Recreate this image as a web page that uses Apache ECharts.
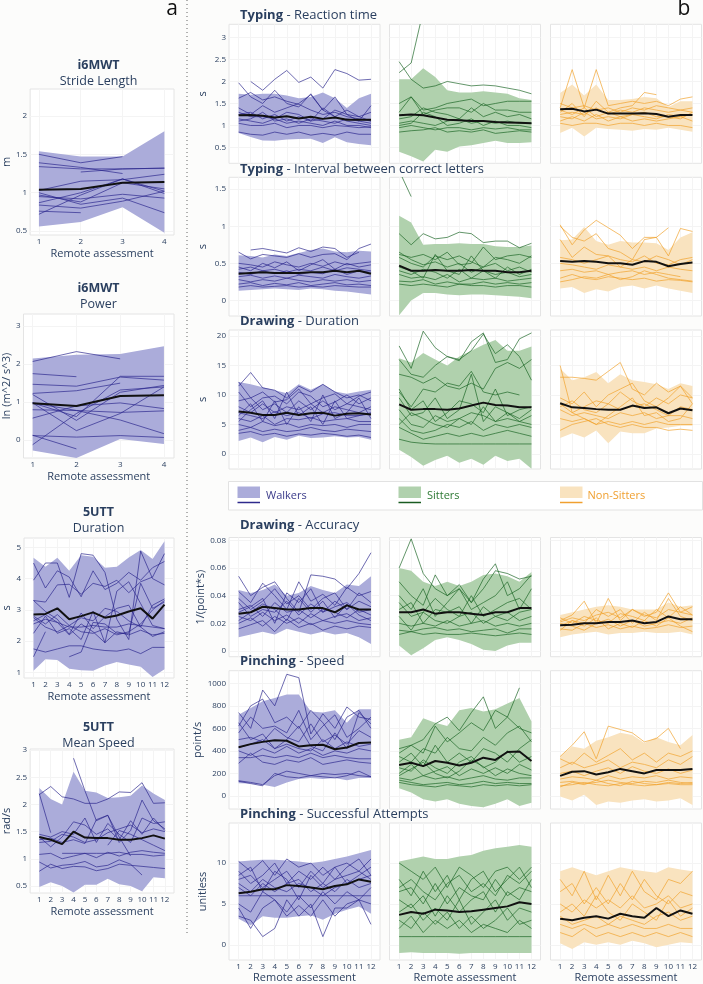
<!DOCTYPE html>
<html><head><meta charset="utf-8">
<script src="https://cdn.jsdelivr.net/npm/echarts@6/dist/echarts.min.js"></script>
<style>html,body{margin:0;padding:0;background:#fcfcfb;}#c{width:703px;height:984px;}</style>
</head><body><div id="c"></div>
<script>
// ---------------- DATA ----------------
const xs4 = [1, 2, 3, 4];
const xs12 = [1, 2, 3, 4, 5, 6, 7, 8, 9, 10, 11, 12];
const xTicks4 = [1, 2, 3, 4];
const xTicks12 = [1, 2, 3, 4, 5, 6, 7, 8, 9, 10, 11, 12];

// i6MWT Stride Length
const strideUpper = [1.54, 1.47, 1.47, 1.80];
const strideLower = [0.56, 0.62, 0.81, 0.48];
const strideMean = [1.04, 1.05, 1.13, 1.14];
const strideLines = [
  [1.50, 1.39, 1.47, null], [1.39, 1.33, 1.25, null], [1.34, 1.31, 1.31, 1.32], [null, 1.27, 1.31, 1.32],
  [1.03, 1.15, 1.17, 1.24], [0.97, 0.88, 1.13, 1.05], [0.87, 1.00, 1.18, 1.02], [0.72, 0.97, 1.18, 0.99],
  [1.00, 0.85, 0.93, 0.74], [0.76, 0.74, null, null], [0.84, 0.80, 0.89, 1.02], [0.95, 0.92, 0.98, 0.93]
];
// i6MWT Power
const powerUpper = [2.15, 2.25, 2.27, 2.47];
const powerLower = [-0.27, -0.47, 0.03, -0.10];
const powerMean = [0.97, 0.90, 1.16, 1.18];
const powerLines = [
  [2.07, 2.33, 2.14, null], [1.75, 1.67, null, null], [1.47, 1.42, 1.66, 1.58], [1.23, 1.30, 1.50, null],
  [1.20, 0.52, 1.26, 1.44], [0.98, 0.62, 1.68, 1.68], [0.80, 0.78, 0.73, 0.77], [0.58, 0.90, 0.98, 0.83],
  [0.98, 0.25, 0.70, 1.40], [0.13, -0.23, null, null], [-0.12, 0.70, 1.32, 1.40], [0.12, 0.08, 0.12, 0.07],
  [0.98, 0.78, 0.53, 0.17]
];
// 5UTT Duration
const utDurUpper = [4.67, 4.38, 4.67, 4.25, 4.75, 4.70, 4.35, 4.38, 4.68, 4.92, 4.63, 5.20];
const utDurLower = [1.05, 1.42, 1.40, 1.12, 1.07, 1.05, 1.22, 1.33, 1.25, 1.18, 0.85, 1.10];
const utDurMean = [2.85, 2.87, 3.05, 2.70, 2.80, 2.92, 2.75, 2.82, 2.95, 3.05, 2.72, 3.17];
const utDurLines = [
  [4.50, 3.70, 4.25, 4.05, 3.42, 4.25, 3.65, 3.85, 4.20, 3.95, 4.35, 4.55],
  [3.95, 4.50, 4.50, 3.40, 4.80, 4.75, 4.20, 2.70, 2.05, 4.88, 4.00, 3.80],
  [3.30, 3.25, 3.80, 3.82, 3.50, 3.85, 3.75, 3.95, 3.55, 3.90, 4.05, 4.80],
  [3.30, 2.95, 2.70, 2.22, 2.90, 2.40, 2.78, 3.05, 3.15, 2.45, 2.15, 2.30],
  [2.80, 2.55, 2.85, 2.50, 2.75, 2.65, 3.05, 2.95, 2.65, 2.45, 3.15, 3.35],
  [2.65, 2.85, 2.60, 2.20, 2.55, 2.30, 1.95, 2.30, 2.20, 2.35, 2.20, 2.25],
  [2.25, 2.80, 2.25, 2.40, 2.05, 2.95, 1.95, 3.60, 3.90, 3.20, 2.50, 2.40],
  [1.75, 1.65, 1.75, 1.85, 1.85, 1.75, 1.70, 1.68, 1.75, 1.60, 1.80, 1.80],
  [1.50, 2.30, null, null, null, null, null, null, null, null, null, null],
  [null, null, null, 1.50, 1.65, 2.60, 2.55, 2.25, 2.25, 3.85, 3.05, 3.25],
  [2.55, 2.70, 2.60, 2.45, 2.45, 2.50, 2.45, 2.45, 2.55, 2.50, 2.45, 2.40],
  [2.75, 2.45, 2.30, 2.50, 2.30, 2.25, 2.40, 2.20, 2.30, 2.55, 3.00, 3.30]
];
// 5UTT Mean Speed
const utSpdUpper = [2.30, 2.10, 2.00, 2.60, 2.25, 2.22, 2.12, 2.13, 2.16, 2.35, 2.20, 2.08];
const utSpdLower = [0.48, 0.57, 0.50, 0.38, 0.52, 0.52, 0.63, 0.53, 0.50, 0.40, 0.66, 0.64];
const utSpdMean = [1.40, 1.35, 1.27, 1.50, 1.39, 1.38, 1.38, 1.35, 1.35, 1.38, 1.43, 1.37];
const utSpdLines = [
  [2.18, 2.33, 2.14, 2.10, 2.02, 2.02, 2.10, 2.23, 2.22, 2.40, 2.02, 2.03],
  [2.20, 1.48, null, null, null, null, null, null, null, null, null, null],
  [null, null, null, 2.85, 2.25, 1.70, 1.80, 1.40, 1.05, null, null, null],
  [1.45, 1.40, 1.50, 1.45, 1.75, 1.30, 1.65, 1.45, 1.30, 1.75, 1.65, 1.68],
  [1.40, 1.22, 1.40, 1.68, 1.62, 1.45, 1.55, 1.35, 1.70, 1.45, 1.75, 1.52],
  [1.35, 1.38, 1.30, 1.35, 1.28, 1.72, 1.80, 1.30, 1.52, 2.08, 1.70, 1.55],
  [1.30, 1.32, 1.45, 1.40, 1.30, 1.35, 1.48, 1.55, 1.62, 1.48, 1.55, 1.50],
  [1.08, 1.10, 1.00, 1.05, 1.10, 1.02, 1.12, 1.05, 1.12, 1.15, 1.12, 1.10],
  [null, null, 1.10, 1.10, 1.10, 1.10, 1.10, 1.12, 1.08, 1.08, 1.05, 1.07],
  [0.94, 0.83, 0.88, 0.90, 0.95, 0.85, 0.88, 0.98, 0.90, 0.70, null, null],
  [0.77, 0.90, 0.82, 0.86, 0.85, 0.78, 0.82, 0.90, 0.88, 0.86, 0.84, 0.82],
  [null, null, null, null, null, null, 1.25, 1.52, 1.45, 1.35, 1.25, 1.15]
];

// Typing - Reaction time
const reactW_up = [1.72, 1.70, 1.72, 1.72, 1.68, 1.62, 1.65, 1.75, 1.62, 1.40, 1.62, 1.72];
const reactW_lo = [0.83, 0.74, 0.66, 0.65, 0.68, 0.69, 0.70, 0.60, 0.73, 0.62, 0.58, 0.55];
const reactW_mean = [1.23, 1.24, 1.22, 1.18, 1.21, 1.16, 1.20, 1.15, 1.18, 1.13, 1.13, 1.13];
const reactW_lines = [
  [null, 2.00, 1.80, 2.05, 2.25, 1.98, 2.10, 1.85, 2.27, 2.18, 2.03, 2.05],
  [1.97, 1.65, 1.50, 1.80, 1.50, 1.42, 1.72, 1.35, 1.65, 1.25, 1.10, 1.45],
  [1.62, 1.75, 1.58, 1.65, 1.55, 1.48, 1.35, 1.25, 1.30, 1.20, 1.15, 1.10],
  [1.40, 1.25, 1.45, 1.30, 1.40, 1.50, 1.70, 1.35, 1.20, 1.35, 1.20, 1.30],
  [1.30, 1.20, 1.20, 1.15, 1.30, 1.25, 1.10, 1.40, 1.20, 1.10, 1.05, 1.00],
  [1.15, 1.10, 1.05, 1.15, 1.05, 1.10, 1.05, 1.00, 1.10, 1.00, 1.00, 0.95],
  [1.05, 1.00, 1.00, 1.05, 0.95, 1.00, 1.00, 0.95, 1.00, 0.98, 0.95, 0.97],
  [0.85, 0.80, 0.78, 0.85, 0.80, 0.85, 0.78, 0.82, 0.78, 0.85, 0.80, 0.80],
  [1.25, 1.30, 1.15, 1.25, 1.10, 1.20, 1.10, 1.15, 1.35, 1.25, 1.20, 1.10],
  [1.10, 1.15, 1.30, 1.10, 1.15, 1.05, 1.15, 1.10, 1.05, 1.15, 1.10, 1.05]
];
const reactS_up = [2.05, 2.05, 2.30, 2.10, 1.80, 1.75, 1.75, 1.78, 1.75, 1.72, 1.62, 1.58];
const reactS_lo = [0.40, 0.30, 0.18, 0.45, 0.40, 0.52, 0.55, 0.60, 0.65, 0.60, 0.60, 0.62];
const reactS_mean = [1.23, 1.25, 1.23, 1.18, 1.13, 1.12, 1.10, 1.10, 1.08, 1.07, 1.06, 1.05];
const reactS_lines = [
  [2.45, 2.05, 1.85, 1.90, 2.00, 1.95, 1.90, 1.92, 1.90, 1.85, 1.80, 1.72],
  [2.20, 2.42, 3.60, null, null, null, null, null, null, null, null, null],
  [1.50, 1.65, 1.35, 1.40, 1.50, 1.55, 1.60, 1.45, 1.50, 1.55, 1.55, 1.55],
  [1.30, 1.65, 1.25, 1.35, 1.40, 1.40, 1.30, 1.50, 1.35, 1.35, 1.30, 1.30],
  [1.15, 1.20, 1.40, 1.30, 1.25, 1.15, 1.40, 1.20, 1.30, 1.20, 1.25, 1.15],
  [1.05, 1.10, 1.05, 1.00, 1.10, 1.15, 1.05, 1.10, 1.05, 1.10, 1.05, 1.05],
  [0.95, 1.00, 0.95, 0.90, 0.95, 0.95, 0.90, 0.95, 0.92, 0.95, 0.90, 0.90],
  [0.85, 0.88, 0.90, 0.95, 0.85, 0.88, 0.85, 0.90, 0.82, 0.85, 0.88, 0.85],
  [1.00, 1.05, 1.30, 1.20, 1.00, 1.05, 1.15, 1.00, 1.10, 1.00, 1.00, 0.95]
];
const reactN_up = [1.74, 1.93, 1.68, 1.93, 1.58, 1.58, 1.60, 1.65, 1.62, 1.42, 1.55, 1.55];
const reactN_lo = [0.83, 0.95, 0.75, 0.95, 0.92, 0.90, 0.88, 0.92, 0.90, 0.95, 0.90, 0.86];
const reactN_mean = [1.37, 1.38, 1.32, 1.36, 1.27, 1.27, 1.27, 1.28, 1.26, 1.20, 1.24, 1.24];
const reactN_lines = [
  [1.40, 2.27, 1.40, 2.27, 1.45, 1.50, 1.55, 1.50, 1.55, 1.45, 1.60, 1.65],
  [1.30, 1.50, 1.20, 1.55, 1.30, 1.40, 1.45, 1.75, 1.70, null, null, null],
  [1.25, 1.30, 1.25, 1.40, 1.25, 1.35, 1.30, 1.40, 1.35, 1.30, 1.35, 1.40],
  [1.20, 1.15, 1.30, 1.15, 1.20, 1.15, 1.25, 1.20, 1.15, 1.25, 1.20, 1.25],
  [1.10, 1.20, 1.10, 1.25, 1.10, 1.20, 1.10, 1.15, 1.10, 1.15, 1.20, 1.10],
  [1.05, 1.00, 1.05, 1.05, 1.00, 1.05, 1.05, 1.00, 1.05, 1.00, 1.00, 0.95],
  [1.50, 1.40, 1.45, 1.35, 1.40, 1.30, 1.40, 1.35, 1.45, 1.40, 1.35, 1.30],
  [1.35, 1.25, 1.40, 1.20, 1.30, 1.20, 1.25, 1.30, 1.20, 1.20, 1.15, 1.30]
];

// Typing - Interval between correct letters
const intW_up = [0.61, 0.60, 0.58, 0.62, 0.60, 0.64, 0.68, 0.70, 0.66, 0.65, 0.67, 0.66];
const intW_lo = [0.13, 0.14, 0.15, 0.16, 0.15, 0.14, 0.16, 0.15, 0.13, 0.12, 0.10, 0.08];
const intW_mean = [0.36, 0.37, 0.38, 0.37, 0.37, 0.37, 0.38, 0.38, 0.40, 0.38, 0.40, 0.36];
const intW_lines = [
  [0.65, 0.56, 0.62, 0.60, 0.58, 0.63, 0.58, 0.62, 0.63, 0.55, 0.70, 0.76],
  [null, 0.68, 0.70, 0.67, 0.64, 0.71, 0.66, 0.72, 0.70, 0.58, 0.65, null],
  [0.50, 0.48, 0.45, 0.52, 0.48, 0.45, 0.50, 0.46, 0.52, 0.48, 0.50, 0.52],
  [0.42, 0.45, 0.40, 0.42, 0.38, 0.42, 0.40, 0.45, 0.40, 0.44, 0.42, 0.40],
  [0.38, 0.35, 0.40, 0.36, 0.40, 0.35, 0.38, 0.36, 0.42, 0.35, 0.40, 0.38],
  [0.32, 0.34, 0.30, 0.33, 0.30, 0.34, 0.32, 0.30, 0.35, 0.32, 0.30, 0.33],
  [0.28, 0.25, 0.28, 0.26, 0.30, 0.27, 0.25, 0.28, 0.26, 0.28, 0.25, 0.27],
  [0.22, 0.24, 0.20, 0.23, 0.21, 0.24, 0.20, 0.22, 0.24, 0.21, 0.22, 0.20],
  [0.18, 0.20, 0.18, 0.19, 0.20, 0.18, 0.19, 0.18, 0.20, 0.19, 0.18, 0.18],
  [0.45, 0.40, 0.50, 0.44, 0.52, 0.40, 0.48, 0.55, 0.42, 0.50, 0.45, 0.48]
];
const intS_up = [1.14, 1.05, 0.75, 0.76, 0.76, 0.77, 0.76, 0.76, 0.73, 0.72, 0.72, 0.74];
const intS_lo = [-0.20, 0.00, 0.10, 0.10, 0.08, 0.07, 0.08, 0.08, 0.07, 0.06, 0.05, 0.03];
const intS_mean = [0.47, 0.40, 0.40, 0.41, 0.40, 0.40, 0.41, 0.40, 0.40, 0.38, 0.38, 0.40];
const intS_lines = [
  [1.75, 1.40, null, null, null, null, null, null, null, null, null, null],
  [0.90, 0.75, 0.90, 0.83, 0.85, 0.92, 0.90, 0.78, 0.80, 0.80, 0.71, 0.77],
  [0.62, 0.58, 0.62, 0.55, 0.65, 0.48, 0.50, 0.72, 0.55, 0.60, 0.62, 0.58],
  [0.58, 0.50, 0.45, 0.60, 0.55, 0.60, 0.52, 0.45, 0.58, 0.55, 0.50, 0.60],
  [0.45, 0.40, 0.30, 0.62, 0.40, 0.35, 0.60, 0.40, 0.30, 0.45, 0.35, 0.42],
  [0.40, 0.35, 0.42, 0.38, 0.30, 0.42, 0.30, 0.40, 0.35, 0.38, 0.32, 0.35],
  [0.35, 0.30, 0.32, 0.28, 0.35, 0.25, 0.30, 0.28, 0.30, 0.26, 0.28, 0.30],
  [0.26, 0.25, 0.28, 0.22, 0.25, 0.22, 0.22, 0.25, 0.22, 0.24, 0.22, 0.24],
  [0.22, 0.20, 0.22, 0.20, 0.18, 0.22, 0.20, 0.20, 0.18, 0.20, 0.20, 0.18],
  [0.65, 0.55, 0.48, 0.52, 0.45, 0.50, 0.38, 0.45, 0.50, 0.40, 0.45, 0.38]
];
const intN_up = [0.81, 0.82, 0.99, 0.80, 0.75, 0.80, 0.78, 0.78, 0.77, 0.68, 0.85, 0.92];
const intN_lo = [0.16, 0.18, 0.10, 0.15, 0.12, 0.18, 0.20, 0.16, 0.20, 0.16, 0.13, 0.10];
const intN_mean = [0.53, 0.52, 0.53, 0.52, 0.50, 0.50, 0.48, 0.53, 0.52, 0.46, 0.49, 0.51];
const intN_lines = [
  [1.02, 0.75, 0.95, 1.08, 0.98, 0.88, 0.70, 0.85, 0.85, 0.98, null, null],
  [1.00, 0.85, 0.80, 0.90, 0.70, 0.65, 0.55, 0.82, 0.85, 0.60, 0.97, 0.93],
  [0.82, 0.58, 0.72, 0.62, 0.60, 0.55, 0.52, 0.60, 0.50, 0.48, 0.55, 0.58],
  [0.58, 0.55, 0.50, 0.55, 0.60, 0.45, 0.55, 0.52, 0.60, 0.55, 0.48, 0.55],
  [0.50, 0.48, 0.45, 0.42, 0.48, 0.45, 0.42, 0.45, 0.40, 0.45, 0.42, 0.40],
  [0.40, 0.42, 0.38, 0.40, 0.35, 0.38, 0.40, 0.35, 0.38, 0.35, 0.32, null],
  [0.30, 0.35, 0.30, 0.28, 0.32, 0.30, 0.28, 0.30, 0.26, 0.28, 0.27, 0.25],
  [0.25, 0.28, 0.32, 0.30, 0.35, 0.28, 0.32, 0.40, 0.35, 0.30, 0.28, 0.26]
];

// Drawing - Duration
const durW_up = [12.2, 11.8, 11.3, 10.8, 10.3, 11.8, 10.9, 11.8, 10.6, 10.2, 10.6, 10.9];
const durW_lo = [2.2, 2.8, 2.0, 2.9, 2.4, 3.1, 2.7, 2.8, 3.0, 2.8, 2.9, 2.4];
const durW_mean = [7.2, 7.0, 6.6, 6.6, 7.0, 6.6, 6.9, 7.0, 6.5, 6.8, 6.9, 6.7];
const durW_lines = [
  [11.5, 13.8, 11.2, 10.8, 9.5, 11.5, 10.5, 11.8, 10.5, 9.5, 10.0, 9.0],
  [12.2, 9.5, 10.5, 8.8, 9.2, 11.0, 8.5, 9.5, 10.2, 8.5, 9.8, 10.5],
  [10.5, 8.0, 9.5, 9.8, 8.5, 10.5, 9.8, 8.0, 8.8, 10.0, 8.5, 9.5],
  [9.0, 9.5, 7.5, 8.5, 7.0, 9.0, 7.5, 9.0, 7.5, 8.5, 8.0, 7.5],
  [8.0, 7.0, 8.5, 7.0, 8.0, 7.5, 8.5, 7.0, 8.0, 7.5, 7.0, 8.0],
  [7.0, 6.5, 6.0, 7.2, 6.5, 7.0, 6.0, 6.8, 7.0, 6.5, 6.5, 6.8],
  [6.0, 5.5, 6.5, 5.0, 6.0, 5.8, 6.2, 5.5, 5.8, 6.0, 5.5, 5.5],
  [5.0, 4.5, 5.5, 4.8, 5.2, 4.5, 5.0, 4.8, 5.0, 4.5, 5.0, 5.0],
  [4.0, 4.5, 3.8, 4.2, 3.8, 4.0, 4.5, 4.0, 3.8, 4.2, 4.0, 3.8],
  [3.5, 3.8, 3.2, 3.5, 3.0, 3.4, 3.2, 3.5, 3.3, 3.0, 3.2, 2.8],
  [6.5, 8.5, 5.5, 9.0, 5.0, 8.0, 5.5, 10.0, 6.0, 7.0, 9.5, 6.0],
  [5.5, 7.5, 9.0, 6.0, 10.5, 6.5, 8.0, 5.0, 9.0, 6.0, 6.5, 7.0]
];
const durS_up = [16.2, 15.5, 17.1, 16.0, 15.0, 16.5, 17.5, 18.5, 19.3, 17.5, 17.5, 18.2];
const durS_lo = [0.7, -0.5, -2.0, -1.0, -0.3, -1.5, -0.8, -1.8, -0.3, -1.2, -0.8, -2.5];
const durS_mean = [8.4, 7.5, 7.6, 7.6, 7.5, 7.7, 8.2, 8.7, 8.3, 8.2, 7.9, 7.9];
const durS_lines = [
  [18.3, 14.5, 20.8, 18.0, 16.5, 15.8, 19.0, 20.5, 15.5, 16.0, 19.5, 20.5],
  [16.0, 13.5, 13.0, 15.0, 16.5, 16.0, 17.5, 20.3, 17.0, 18.5, 16.5, 12.5],
  [13.5, 13.0, 12.0, 13.0, 11.5, 11.0, 12.0, 11.0, 14.5, 15.5, 14.5, 16.0],
  [10.5, 8.0, 11.0, 10.5, 12.0, 11.5, 14.0, 10.5, 10.0, 10.5, 10.0, null],
  [11.0, 7.5, 9.0, 5.5, 7.0, 9.0, 8.5, 7.0, 11.0, 6.5, 7.5, 8.0],
  [9.5, 6.5, 7.0, 9.5, 6.0, 7.5, 13.5, 5.5, 8.0, 7.0, 6.0, 7.5],
  [7.5, 5.0, 4.5, 6.5, 5.5, 6.0, 5.0, 8.0, 5.5, 7.0, 5.5, 5.0],
  [6.0, 4.0, 3.5, 4.0, 5.0, 4.5, 5.5, 4.0, 5.0, 4.5, 5.0, 4.5],
  [4.5, 3.5, 2.5, 3.0, 3.5, 3.0, 3.5, 3.0, 3.5, 4.0, 3.5, 3.0],
  [2.5, 2.0, 1.8, 1.7, 1.7, 1.7, 1.7, 1.7, 1.7, 1.7, 1.7, 1.7],
  [5.0, 7.0, 6.0, 5.0, 4.5, 6.0, 7.0, 6.5, 5.5, 6.0, 5.5, 6.5]
];
const durN_up = [14.5, 12.5, 13.0, 13.9, 12.0, 13.5, 12.5, 12.2, 11.8, 11.0, 12.0, 11.5];
const durN_lo = [2.7, 3.5, 2.8, 4.0, 1.8, 3.8, 3.5, 3.5, 4.3, 4.5, 4.8, 4.8];
const durN_mean = [8.6, 7.9, 7.8, 7.6, 7.5, 7.5, 8.2, 7.8, 7.9, 6.9, 7.7, 7.4];
const durN_lines = [
  [15.0, 7.0, 8.0, 9.0, 8.5, 10.5, 9.0, 8.0, 9.5, 8.5, 10.0, 9.5],
  [13.0, 13.0, 12.8, 12.5, 14.0, 15.5, 11.0, 10.0, 12.0, 10.5, 11.5, 9.5],
  [9.5, 8.5, 10.5, 8.0, 10.0, 11.0, 12.0, 9.0, 8.0, 9.5, 11.5, 8.5],
  [8.0, 9.0, 7.5, 7.0, 8.5, 7.5, 8.0, 8.5, 7.5, 6.5, 8.0, 7.5],
  [7.5, 6.5, 7.0, 6.5, 6.0, 7.0, 6.5, 7.0, 6.0, 6.5, 6.5, 6.0],
  [6.0, 5.5, 6.0, 5.0, 5.5, 5.0, 5.5, 5.0, 5.5, 5.0, 5.0, 5.0],
  [4.0, 5.0, 5.5, 6.0, 5.0, 4.5, 5.0, 4.5, 4.5, 4.0, 4.2, 4.0],
  [8.5, 7.0, 6.0, 5.0, 6.5, 8.0, 9.5, 6.5, 7.0, 5.5, 6.0, 8.5]
];

// Drawing - Accuracy
const accW_up = [0.044, 0.042, 0.044, 0.048, 0.040, 0.042, 0.047, 0.044, 0.042, 0.048, 0.047, 0.054];
const accW_lo = [0.010, 0.012, 0.014, 0.012, 0.016, 0.014, 0.012, 0.014, 0.012, 0.013, 0.010, 0.005];
const accW_mean = [0.027, 0.028, 0.032, 0.031, 0.030, 0.030, 0.031, 0.031, 0.028, 0.033, 0.030, 0.030];
const accW_lines = [
  [0.054, 0.040, 0.046, 0.050, 0.038, 0.028, 0.055, 0.054, 0.052, 0.045, 0.056, 0.071],
  [0.043, 0.035, 0.049, 0.040, 0.030, 0.050, 0.036, 0.041, 0.033, 0.046, 0.040, 0.043],
  [0.038, 0.030, 0.036, 0.045, 0.034, 0.040, 0.030, 0.038, 0.042, 0.030, 0.036, 0.032],
  [0.035, 0.025, 0.030, 0.028, 0.036, 0.026, 0.034, 0.028, 0.032, 0.035, 0.028, 0.030],
  [0.030, 0.033, 0.025, 0.035, 0.028, 0.030, 0.024, 0.030, 0.028, 0.024, 0.030, 0.026],
  [0.025, 0.022, 0.028, 0.022, 0.026, 0.020, 0.027, 0.022, 0.025, 0.027, 0.022, 0.024],
  [0.020, 0.024, 0.018, 0.025, 0.020, 0.024, 0.019, 0.022, 0.020, 0.022, 0.020, 0.019],
  [0.016, 0.019, 0.022, 0.014, 0.023, 0.017, 0.020, 0.015, 0.018, 0.016, 0.018, 0.017],
  [0.028, 0.032, 0.038, 0.020, 0.042, 0.035, 0.045, 0.028, 0.036, 0.030, 0.042, 0.035],
  [0.022, 0.028, 0.034, 0.030, 0.022, 0.038, 0.028, 0.036, 0.024, 0.034, 0.026, 0.022]
];
const accS_up = [0.060, 0.058, 0.050, 0.047, 0.050, 0.047, 0.050, 0.055, 0.056, 0.054, 0.050, 0.057];
const accS_lo = [0.004, -0.003, 0.002, 0.008, 0.010, 0.008, 0.005, 0.001, 0.000, 0.004, 0.006, 0.006];
const accS_mean = [0.028, 0.028, 0.030, 0.027, 0.028, 0.028, 0.027, 0.026, 0.028, 0.028, 0.031, 0.031];
const accS_lines = [
  [0.060, 0.081, 0.056, 0.045, 0.040, 0.045, 0.035, 0.045, 0.058, 0.056, 0.052, 0.054],
  [0.050, 0.040, 0.033, 0.055, 0.040, 0.048, 0.035, 0.052, 0.063, 0.040, 0.045, 0.055],
  [0.040, 0.030, 0.045, 0.025, 0.035, 0.045, 0.030, 0.035, 0.040, 0.050, 0.030, 0.045],
  [0.035, 0.025, 0.028, 0.038, 0.030, 0.025, 0.040, 0.025, 0.030, 0.035, 0.038, 0.030],
  [0.030, 0.035, 0.020, 0.030, 0.028, 0.032, 0.020, 0.032, 0.025, 0.022, 0.028, 0.030],
  [0.025, 0.015, 0.028, 0.022, 0.020, 0.025, 0.028, 0.020, 0.025, 0.028, 0.022, 0.025],
  [0.020, 0.018, 0.020, 0.018, 0.022, 0.018, 0.020, 0.022, 0.018, 0.020, 0.018, 0.020],
  [0.015, 0.014, 0.016, 0.017, 0.015, 0.016, 0.014, 0.015, 0.016, 0.013, 0.016, 0.016],
  [0.012, 0.014, 0.012, 0.013, 0.012, 0.012, 0.013, 0.012, 0.011, 0.012, 0.013, 0.012]
];
const accN_up = [0.026, 0.028, 0.030, 0.032, 0.033, 0.032, 0.030, 0.030, 0.030, 0.035, 0.032, 0.033];
const accN_lo = [0.010, 0.012, 0.013, 0.014, 0.012, 0.013, 0.013, 0.014, 0.013, 0.013, 0.014, 0.012];
const accN_mean = [0.0187, 0.019, 0.020, 0.020, 0.021, 0.021, 0.022, 0.020, 0.021, 0.025, 0.023, 0.023];
const accN_lines = [
  [0.022, 0.026, 0.036, 0.020, 0.038, 0.022, 0.030, 0.025, 0.028, 0.042, 0.028, 0.032],
  [0.018, 0.022, 0.020, 0.030, 0.025, 0.030, 0.020, 0.028, 0.022, 0.038, 0.025, 0.022],
  [0.024, 0.020, 0.025, 0.022, 0.020, 0.027, 0.025, 0.022, 0.030, 0.024, 0.032, 0.026],
  [0.020, 0.018, 0.015, 0.020, 0.023, 0.018, 0.022, 0.018, 0.020, 0.022, 0.020, 0.024],
  [0.015, 0.022, 0.018, 0.024, 0.016, 0.020, 0.017, 0.022, 0.018, 0.024, 0.018, 0.014],
  [0.016, 0.015, 0.020, 0.017, 0.019, 0.016, 0.018, 0.016, 0.017, 0.019, 0.017, 0.018],
  [0.021, 0.024, 0.022, 0.026, 0.028, 0.024, 0.030, 0.026, 0.024, 0.030, 0.028, 0.026]
];

// Pinching - Speed
const spdW_up = [720, 780, 840, 870, 900, 900, 750, 740, 760, 650, 770, 770];
const spdW_lo = [113, 110, 100, 80, 120, 150, 160, 150, 160, 140, 160, 160];
const spdW_mean = [433, 460, 480, 495, 490, 440, 450, 455, 415, 430, 470, 475];
const spdW_lines = [
  [740, 600, 940, 800, 1080, 1050, 550, 730, 600, 790, 700, 680],
  [620, 800, 860, 650, 700, 600, 760, 650, 500, 700, 760, 600],
  [560, 700, 600, 620, 560, 760, 500, 620, 720, 520, 600, 700],
  [500, 520, 480, 600, 520, 480, 640, 480, 540, 460, 580, 520],
  [430, 460, 500, 420, 460, 420, 400, 500, 420, 480, 440, 460],
  [400, 360, 420, 380, 440, 380, 420, 360, 400, 380, 420, 400],
  [340, 340, 360, 340, 360, 340, 380, 340, 360, 340, 330, 330],
  [290, 380, 300, 280, 320, 300, 340, 280, 300, 320, 300, 290],
  [135, 120, 100, 180, 220, 200, 180, 200, 190, 200, 180, 170],
  [130, 110, 90, 200, 170, 160, 180, 170, 160, 180, 220, 170],
  [650, 500, 550, 420, 500, 620, 440, 400, 560, 420, 740, 640]
];
const spdS_up = [498, 520, 690, 650, 620, 760, 780, 750, 770, 820, 870, 660];
const spdS_lo = [68, 30, -30, -50, -30, -70, -90, -100, -70, -30, -90, -60];
const spdS_mean = [275, 295, 265, 310, 295, 270, 295, 340, 320, 390, 395, 310];
const spdS_lines = [
  [380, 450, 500, 640, 700, 580, 740, 880, 600, 700, 960, null],
  [420, 450, 380, 620, 480, 560, 650, 580, 760, 700, 600, 560],
  [350, 300, 420, 380, 520, 420, 400, 520, 450, 560, 620, 480],
  [300, 380, 260, 450, 300, 380, 300, 420, 380, 300, 420, 500],
  [250, 220, 320, 250, 200, 300, 350, 250, 300, 400, 300, 350],
  [200, 280, 180, 220, 260, 180, 240, 200, 250, 200, 280, 230],
  [160, 140, 180, 150, 170, 140, 160, 180, 150, 140, 160, 160],
  [140, 120, 100, 110, 120, 100, 110, 130, 110, 120, 110, 110],
  [120, 100, 90, 80, 100, 90, 80, 100, 90, 100, 90, 100],
  [180, 240, 300, 200, 160, 220, 320, 260, 180, 240, 200, 180]
];
const spdN_up = [350, 440, 420, 490, 520, 560, 540, 470, 520, 480, 450, 540];
const spdN_lo = [-6, -40, 10, -80, -50, -60, -40, -30, -50, -40, -20, -80];
const spdN_mean = [178, 215, 220, 190, 210, 240, 220, 200, 230, 230, 230, 240];
const spdN_lines = [
  [350, 450, 570, 330, 620, 590, 560, 480, 510, 600, 420, null],
  [330, 280, 380, 300, 360, 420, 320, 380, 300, 380, 350, 400],
  [250, 300, 250, 280, 320, 250, 300, 280, 250, 320, 280, 350],
  [200, 220, 180, 220, 250, 200, 260, 220, 200, 240, 200, 230],
  [150, 170, 160, 140, 180, 150, 170, 160, 180, 150, 170, 160],
  [120, 130, 110, 120, 140, 120, 110, 130, 120, 140, 120, 110],
  [90, 100, 120, 100, 90, 110, 100, 90, 100, 110, 100, 100],
  [80, 120, 100, 140, 110, 90, 130, 110, 100, 120, 110, 120]
];

// Pinching - Successful Attempts
const sucW_up = [10.2, 10.3, 10.4, 10.4, 10.3, 10.2, 10.0, 10.2, 10.5, 10.8, 11.2, 11.6];
const sucW_lo = [3.2, 2.4, 3.5, 3.3, 3.3, 3.5, 3.6, 3.07, 3.8, 4.3, 4.7, 3.8];
const sucW_mean = [6.3, 6.5, 6.8, 6.8, 7.3, 7.2, 7.0, 6.8, 7.2, 7.4, 8.0, 7.7];
const sucW_lines = [
  [10.2, 9.0, 10.3, 8.5, 10.5, 9.5, 10.0, 8.5, 9.5, 10.0, 9.0, 10.5],
  [9.0, 7.5, 8.5, 10.0, 7.5, 9.0, 8.0, 9.5, 8.0, 9.5, 10.5, 8.5],
  [8.0, 8.5, 7.0, 8.0, 9.0, 7.0, 9.0, 7.5, 9.5, 7.5, 8.5, 9.5],
  [7.0, 6.0, 7.5, 6.5, 7.5, 8.0, 6.5, 7.5, 6.5, 8.0, 7.0, 7.5],
  [6.0, 6.0, 6.0, 6.0, 6.0, 6.0, 6.0, 6.0, 6.0, 6.0, 6.0, 6.0],
  [5.0, 4.0, 6.5, 5.5, 4.0, 6.0, 4.5, 6.5, 5.0, 6.5, 5.5, 7.0],
  [4.5, 2.0, 4.5, 5.5, 3.5, 4.8, 3.5, 5.5, 3.5, 5.0, 5.5, 5.0],
  [3.5, 3.0, 1.0, 2.0, 5.5, 3.5, 5.0, 1.0, 4.5, 4.5, 5.5, 2.5],
  [8.5, 9.5, 6.5, 9.0, 8.0, 5.5, 8.5, 7.0, 8.0, 8.5, 9.0, 8.0],
  [7.5, 6.5, 8.0, 7.0, 6.5, 7.5, 7.0, 6.0, 7.0, 7.5, 8.0, 8.5]
];
const sucS_up = [10.2, 10.5, 10.8, 10.5, 10.5, 10.8, 11.0, 11.5, 11.8, 12.0, 12.2, 12.0];
const sucS_lo = [-1.0, -0.9, -1.0, -1.0, -1.0, -1.1, -1.0, -1.0, -1.0, -1.0, -1.0, -1.0];
const sucS_mean = [3.66, 4.0, 3.8, 4.3, 4.2, 4.0, 4.1, 4.3, 4.5, 4.7, 5.2, 5.0];
const sucS_lines = [
  [10.0, 9.0, 8.0, 9.5, 7.0, 9.5, 8.5, 7.0, 9.0, 9.5, 8.0, 9.5],
  [8.0, 6.0, 9.0, 6.5, 8.5, 5.5, 8.0, 9.0, 6.5, 8.0, 9.5, 7.0],
  [6.5, 7.0, 5.0, 7.5, 5.0, 7.0, 6.0, 5.5, 8.0, 6.0, 7.0, 6.5],
  [5.5, 4.5, 6.0, 3.5, 6.0, 4.0, 5.5, 6.5, 4.0, 6.5, 5.5, 8.0],
  [4.0, 5.0, 3.0, 4.5, 3.0, 5.5, 2.5, 4.0, 5.5, 3.0, 4.5, 4.0],
  [3.0, 2.0, 4.0, 2.5, 4.0, 2.0, 3.5, 2.0, 3.0, 4.5, 2.5, 3.0],
  [1.0, 1.0, 1.0, 1.0, 1.0, 1.0, 1.0, 1.0, 1.0, 1.0, 1.0, 1.0],
  [2.0, 3.5, 1.5, 3.0, 2.0, 3.0, 1.5, 2.5, 2.0, 1.5, 3.0, 2.0],
  [7.0, 8.0, 6.5, 5.5, 7.5, 8.5, 6.5, 7.5, 6.0, 8.5, 7.5, 9.0]
];
const sucN_up = [9.0, 9.5, 9.0, 8.5, 9.0, 9.5, 9.2, 9.0, 8.8, 9.5, 9.2, 9.0];
const sucN_lo = [0.2, -0.5, 0.3, 0.0, 0.3, 0.0, 0.5, 0.2, -0.3, 0.0, 0.3, 0.2];
const sucN_mean = [3.2, 3.0, 3.3, 3.5, 3.2, 3.8, 3.5, 3.3, 4.5, 3.5, 4.2, 3.8];
const sucN_lines = [
  [8.0, 6.0, 9.0, 5.5, 8.5, 6.0, 9.0, 6.5, 5.5, 8.0, 7.5, 9.0],
  [6.5, 7.5, 5.0, 7.0, 5.0, 7.5, 5.5, 8.0, 6.0, 5.0, 6.5, 6.0],
  [5.0, 4.0, 5.5, 4.5, 5.5, 4.5, 6.0, 4.5, 5.0, 6.0, 4.5, 5.0],
  [3.5, 2.5, 3.0, 3.5, 2.5, 3.5, 3.0, 2.5, 3.5, 4.0, 3.0, 3.5],
  [2.5, 2.0, 2.5, 2.0, 2.5, 2.0, 2.5, 2.0, 2.0, 2.5, 2.0, 2.0],
  [1.5, 1.0, 2.0, 1.0, 1.5, 1.0, 1.5, 1.0, 1.5, 1.0, 1.5, 1.0],
  [4.0, 5.0, 3.5, 6.0, 4.0, 3.0, 5.0, 4.0, 3.0, 5.5, 3.5, 4.5]
];

// ---------------- STYLE / LAYOUT ----------------
const FONT = '"Open Sans", "DejaVu Sans", sans-serif';
const TXT = '#2a3f5f';
const GROUP = {
  W: { band: '#abacda', line: 'rgba(40,36,140,0.85)' },
  S: { band: '#b0d1ad', line: 'rgba(24,100,34,0.85)' },
  N: { band: '#f9e3bf', line: 'rgba(240,160,40,0.85)' }
};

const grids = [], xAxes = [], yAxes = [], series = [];
const numFmt = v => String(+v.toFixed(4));

function panel(p) {
  const gi = grids.length;
  grids.push({ left: p.l, top: p.t, width: p.w, height: p.h, show: true, backgroundColor: '#ffffff',
    borderColor: '#e4e4e4', borderWidth: 1 });
  xAxes.push({ gridIndex: gi, type: 'value', min: p.xr[0], max: p.xr[1],
    axisLine: { show: false }, axisTick: { show: false, customValues: p.xt },
    axisLabel: { show: !!p.showX, customValues: p.xt, fontSize: 8, color: TXT, margin: 3, fontFamily: FONT },
    splitLine: { show: true, lineStyle: { color: '#f4f4f4', width: 1 } },
    name: p.showX ? 'Remote assessment' : '', nameLocation: 'middle', nameGap: p.xgap || 13,
    nameTextStyle: { fontSize: 11, color: TXT, fontFamily: FONT } });
  yAxes.push({ gridIndex: gi, type: 'value', min: p.yr[0], max: p.yr[1],
    axisLine: { show: false }, axisTick: { show: false, customValues: p.yt },
    axisLabel: { show: !!p.showY, customValues: p.yt, fontSize: 8, color: TXT, margin: 3, fontFamily: FONT, formatter: numFmt },
    splitLine: { show: true, lineStyle: { color: '#f4f4f4', width: 1 } },
    name: p.yname || '', nameLocation: 'middle', nameGap: p.ygap || 12, nameRotate: 90,
    nameTextStyle: { fontSize: 11, color: TXT, fontFamily: FONT } });
  const g = GROUP[p.g];
  const pairs = arr => p.xs.map((x, i) => [x, arr[i] == null ? '-' : arr[i]]);
  // band polygon: drawn through the axis scales via api.coord
  const bandData = p.xs.map((x, i) => [x, p.lo[i], p.up[i]]);
  series.push({ type: 'custom', xAxisIndex: gi, yAxisIndex: gi, data: bandData, silent: true, z: 1,
    clip: true,
    renderItem: (params, api) => {
      if (params.dataIndex !== 0) return null;
      const top = bandData.map(d => api.coord([d[0], d[2]]));
      const bot = bandData.map(d => api.coord([d[0], d[1]])).reverse();
      const cs = params.coordSys;
      const pts = echarts.graphic.clipPointsByRect(top.concat(bot), { x: cs.x, y: cs.y, width: cs.width, height: cs.height });
      return { type: 'polygon', shape: { points: pts }, style: { fill: g.band, stroke: null } };
    },
    encode: { x: 0, y: [1, 2] } });
  p.lines.forEach(ln => series.push({ type: 'line', xAxisIndex: gi, yAxisIndex: gi, data: pairs(ln),
    showSymbol: false, connectNulls: false, lineStyle: { color: g.line, width: 0.8 }, silent: true, z: 2 }));
  series.push({ type: 'line', xAxisIndex: gi, yAxisIndex: gi, data: pairs(p.mean), showSymbol: false,
    lineStyle: { color: '#111111', width: 2 }, silent: true, z: 3 });
}

// Left column
const LX = 23, LW = 151;
panel({ l: LX, t: 89, w: LW, h: 146, xs: xs4, xt: xTicks4, xr: [0.79, 4.23], yr: [0.45, 2.35], yt: [0.5, 1, 1.5, 2],
  showX: true, showY: true, yname: 'm', ygap: 11, g: 'W', up: strideUpper, lo: strideLower, mean: strideMean, lines: strideLines });
panel({ l: LX, t: 314, w: LW, h: 144, xs: xs4, xt: xTicks4, xr: [0.79, 4.23], yr: [-0.47, 3.32], yt: [0, 1, 2, 3],
  showX: true, showY: true, yname: 'ln (m^2/ s^3)', ygap: 11, g: 'W', up: powerUpper, lo: powerLower, mean: powerMean, lines: powerLines });
panel({ l: LX, t: 538, w: LW, h: 140, xs: xs12, xt: xTicks12, xr: [0.2, 12.8], yr: [0.82, 5.3], yt: [1, 2, 3, 4, 5],
  showX: true, showY: true, yname: 's', ygap: 12, g: 'W', up: utDurUpper, lo: utDurLower, mean: utDurMean, lines: utDurLines });
panel({ l: LX, t: 749, w: LW, h: 144, xs: xs12, xt: xTicks12, xr: [0.2, 12.8], yr: [0.37, 3.02], yt: [0.5, 1, 1.5, 2, 2.5, 3],
  showX: true, showY: true, yname: 'rad/s', ygap: 12, g: 'W', up: utSpdUpper, lo: utSpdLower, mean: utSpdMean, lines: utSpdLines });

// Right column
const COLS = [229, 389.5, 550.5], RW = 151, XR = [0.2, 12.75];
const ROWS = [
  { t: 24.3, h: 139, yr: [0.14, 3.3], yt: [0.5, 1, 1.5, 2, 2.5, 3], yname: 's',
    d: { W: [reactW_up, reactW_lo, reactW_mean, reactW_lines], S: [reactS_up, reactS_lo, reactS_mean, reactS_lines], N: [reactN_up, reactN_lo, reactN_mean, reactN_lines] } },
  { t: 177.3, h: 138.7, yr: [-0.21, 1.66], yt: [0, 0.5, 1, 1.5], yname: 's',
    d: { W: [intW_up, intW_lo, intW_mean, intW_lines], S: [intS_up, intS_lo, intS_mean, intS_lines], N: [intN_up, intN_lo, intN_mean, intN_lines] } },
  { t: 330, h: 139, yr: [-2.54, 21.0], yt: [0, 5, 10, 15, 20], yname: 's',
    d: { W: [durW_up, durW_lo, durW_mean, durW_lines], S: [durS_up, durS_lo, durS_mean, durS_lines], N: [durN_up, durN_lo, durN_mean, durN_lines] } },
  { t: 537.5, h: 119.2, yr: [-0.0041, 0.082], yt: [0, 0.02, 0.04, 0.06, 0.08], yname: '1/(point*s)',
    d: { W: [accW_up, accW_lo, accW_mean, accW_lines], S: [accS_up, accS_lo, accS_mean, accS_lines], N: [accN_up, accN_lo, accN_mean, accN_lines] } },
  { t: 670.7, h: 138.3, yr: [-116, 1112], yt: [0, 200, 400, 600, 800, 1000], yname: 'point/s',
    d: { W: [spdW_up, spdW_lo, spdW_mean, spdW_lines], S: [spdS_up, spdS_lo, spdS_mean, spdS_lines], N: [spdN_up, spdN_lo, spdN_mean, spdN_lines] } },
  { t: 823, h: 138.7, yr: [-1.86, 14.9], yt: [0, 5, 10], yname: 'unitless',
    d: { W: [sucW_up, sucW_lo, sucW_mean, sucW_lines], S: [sucS_up, sucS_lo, sucS_mean, sucS_lines], N: [sucN_up, sucN_lo, sucN_mean, sucN_lines] } }
];
ROWS.forEach((r, ri) => {
  ['W', 'S', 'N'].forEach((g, ci) => {
    const d = r.d[g];
    panel({ l: COLS[ci], t: r.t, w: RW, h: r.h, xs: xs12, xt: xTicks12, xr: XR, yr: r.yr, yt: r.yt,
      showX: ri === ROWS.length - 1, xgap: 12, showY: ci === 0, yname: ci === 0 ? r.yname : '', ygap: 21,
      g: g, up: d[0], lo: d[1], mean: d[2], lines: d[3] });
  });
});

// Titles
const rich = { b: { fontWeight: 'bold', fontSize: 13, color: TXT, fontFamily: FONT }, r: { fontWeight: 'normal', fontSize: 13, color: TXT, fontFamily: FONT } };
const leftRich = { b: { fontWeight: 'bold', fontSize: 12.5, color: TXT, fontFamily: FONT, lineHeight: 16 }, r: { fontWeight: 'normal', fontSize: 12.5, color: TXT, fontFamily: FONT, lineHeight: 16 } };
const titles = [
  ['i6MWT', 'Stride Length', 57], ['i6MWT', 'Power', 280], ['5UTT', 'Duration', 504], ['5UTT', 'Mean Speed', 719]
].map(t => ({ text: '{b|' + t[0] + '}\n{r|' + t[1] + '}', left: 98.5, top: t[2], textAlign: 'center', padding: 0,
  textStyle: { fontWeight: 'normal', rich: leftRich } }));
[['Typing', ' - Reaction time', 8.5], ['Typing', ' - Interval between correct letters', 162.5], ['Drawing', ' - Duration', 315],
 ['Drawing', ' - Accuracy', 519], ['Pinching', ' - Speed', 655], ['Pinching', ' - Successful Attempts', 807.5]]
  .forEach(t => titles.push({ text: '{b|' + t[0] + '}{r|' + t[1] + '}', left: 240, top: t[2], padding: 0,
    textStyle: { fontWeight: 'normal', rich: rich } }));

// Decorations: panel letters, separator, legend
const graphic = [
  { type: 'line', shape: { x1: 187, y1: 0, x2: 187, y2: 935 }, style: { stroke: '#666', lineWidth: 1, lineDash: [1, 3] }, silent: true },
  { type: 'text', x: 172, y: 9, style: { text: 'a', font: '21px "Open Sans", sans-serif', fill: '#111', textAlign: 'center', textVerticalAlign: 'middle' } },
  { type: 'text', x: 684, y: 9, style: { text: 'b', font: '21px "Open Sans", sans-serif', fill: '#111', textAlign: 'center', textVerticalAlign: 'middle' } },
  { type: 'rect', shape: { x: 228.5, y: 481.5, width: 474, height: 28.5 }, style: { fill: '#ffffff', stroke: '#e2e2e2', lineWidth: 1 } }
];
const legendItems = [
  { x: 237.5, tx: 266, label: 'Walkers', g: 'W', line: '#2e2a8c', txt: '#3b3b8a' },
  { x: 398.5, tx: 427, label: 'Sitters', g: 'S', line: '#1a5c22', txt: '#2f7a35' },
  { x: 560, tx: 587.5, label: 'Non-Sitters', g: 'N', line: '#f0a030', txt: '#f0a030' }
];
legendItems.forEach(it => {
  graphic.push({ type: 'rect', shape: { x: it.x, y: 486.5, width: 22.5, height: 11.5 }, style: { fill: GROUP[it.g].band } });
  graphic.push({ type: 'line', shape: { x1: it.x, y1: 502.5, x2: it.x + 22.5, y2: 502.5 }, style: { stroke: it.line, lineWidth: 1.5 } });
  graphic.push({ type: 'text', x: it.tx, y: 496, style: { text: it.label, font: '11px "Open Sans", sans-serif', fill: it.txt, textVerticalAlign: 'middle' } });
});

const chart = echarts.init(document.getElementById('c'), null, { renderer: 'canvas' });
chart.setOption({
  backgroundColor: '#fcfcfb',
  animation: false,
  title: titles,
  grid: grids,
  xAxis: xAxes,
  yAxis: yAxes,
  series: series,
  graphic: graphic
});
</script>
</body></html>
